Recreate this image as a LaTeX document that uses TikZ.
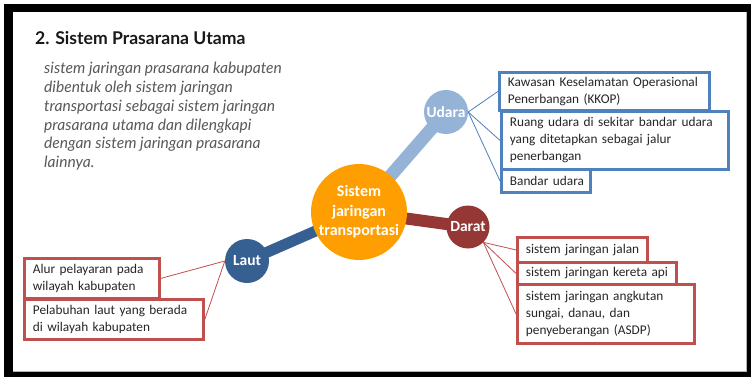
\documentclass[tikz,border=0pt]{standalone}
\usepackage{fontspec}
\setmainfont{Carlito}
\newfontfamily\headfont{Lato}
\definecolor{huborange}{HTML}{FF9E00}
\definecolor{airblue}{HTML}{95B3D7}
\definecolor{landred}{HTML}{953735}
\definecolor{seablue}{HTML}{376092}
\definecolor{boxblue}{HTML}{4F81BD}
\definecolor{boxred}{HTML}{C0504D}
\definecolor{bodytext}{HTML}{262626}
\definecolor{paratext}{HTML}{595959}
% keep a line of box text from breaking
\newcommand{\keepline}[1]{\mbox{#1}}
\tikzset{
  hubnode/.style={circle, fill=huborange, minimum size=92, inner sep=0, text=white, align=center,
    font=\bfseries\fontsize{16}{19.5}\selectfont},
  modenode/.style={circle, minimum size=44, inner sep=0, text=white,
    font=\bfseries\fontsize{15.5}{18}\selectfont},
  bar/.style={line width=#1},
  itembox/.style={draw=#1, line width=2.8, fill=white, anchor=north west, inner xsep=8.5,
    inner ysep=0, align=left, text=bodytext, font=\fontsize{13.3}{17}\selectfont},
  leader/.style={draw=#1, line width=0.8},
}
\begin{document}
\begin{tikzpicture}[x=1pt, y=-1pt]
\useasboundingbox (0,0) rectangle (751,377);
% frame
\fill[black] (4,4) rectangle (751,377);
\fill[white] (12.5,12.5) rectangle (747,371.5);
\draw[gray!60, line width=1] (746.5,12.5) -- (746.5,371) -- (12.5,371);

% heading and description
\node[anchor=base west, inner sep=0, text=black!90,
  font=\headfont\bfseries\fontsize{17.6}{20}\selectfont] (title) at (35,45) {2. Sistem Prasarana Utama};
\node[anchor=north west, inner sep=0, align=left, text=paratext,
  font=\headfont\itshape\fontsize{15.6}{18.8}\selectfont] (para) at (44,62)
  {sistem jaringan prasarana kabupaten\\dibentuk oleh sistem jaringan\\transportasi sebagai sistem jaringan\\prasarana utama dan dilengkapi\\dengan sistem jaringan prasarana\\lainnya.};

% centres of the hub and the three modes
\coordinate (hubc) at (359,212);
\coordinate (udarac) at (446,112);
\coordinate (daratc) at (468,227);
\coordinate (lautc) at (247,261);

% spokes
\draw[bar=13, airblue] (hubc) -- (udarac);
\draw[bar=12, landred] (hubc) -- (daratc);
\draw[bar=11, seablue] (hubc) -- (lautc);

% circles
\node[hubnode] (hub) at (hubc) {Sistem\\jaringan\\transportasi};
\node[modenode, fill=airblue] (udara) at (udarac) {Udara};
\node[modenode, fill=landred, minimum size=43] (darat) at (daratc) {Darat};
\node[modenode, fill=seablue] (laut) at (lautc) {Laut};

% air items
\node[itembox=boxblue, text width=193, minimum height=38] (u1) at (498,71)
  {\keepline{Kawasan Keselamatan Operasional}\\\keepline{Penerbangan (KKOP)}};
\node[itembox=boxblue, text width=210, minimum height=58] (u2) at (500,110)
  {\keepline{Ruang udara di sekitar bandar udara}\\\keepline{yang ditetapkan sebagai jalur}\\penerbangan};
\node[itembox=boxblue, text width=72, minimum height=23] (u3) at (500,168) {\keepline{Bandar udara}};

% land items
\node[itembox=boxred, text width=113, minimum height=25] (d1) at (516,236) {\keepline{sistem jaringan jalan}};
\node[itembox=boxred, text width=142, minimum height=22] (d2) at (516,261) {\keepline{sistem jaringan kereta api}};
\node[itembox=boxred, text width=160, minimum height=59] (d3) at (516,283)
  {\keepline{sistem jaringan angkutan}\\\keepline{sungai, danau, dan}\\\keepline{penyeberangan (ASDP)}};

% sea items
\node[itembox=boxred, text width=118, minimum height=40] (l1) at (23,257)
  {\keepline{Alur pelayaran pada}\\\keepline{wilayah kabupaten}};
\node[itembox=boxred, text width=162, minimum height=40] (l2) at (23,298)
  {\keepline{Pelabuhan laut yang berada}\\\keepline{di wilayah kabupaten}};

% leader lines
\draw[leader=boxblue] (udara.east) -- (u1.west);
\draw[leader=boxblue] (udara.east) -- (u2.west);
\draw[leader=boxblue] (udara.east) -- (u3.west);
\draw[leader=boxred] (darat.south east) -- (d1.west);
\draw[leader=boxred] (darat.south east) -- (d2.west);
\draw[leader=boxred] (darat.south east) -- (d3.west);
\draw[leader=boxred] (laut.west) -- (l1.east);
\draw[leader=boxred] (laut.west) -- (l2.east);
\end{tikzpicture}
\end{document}
